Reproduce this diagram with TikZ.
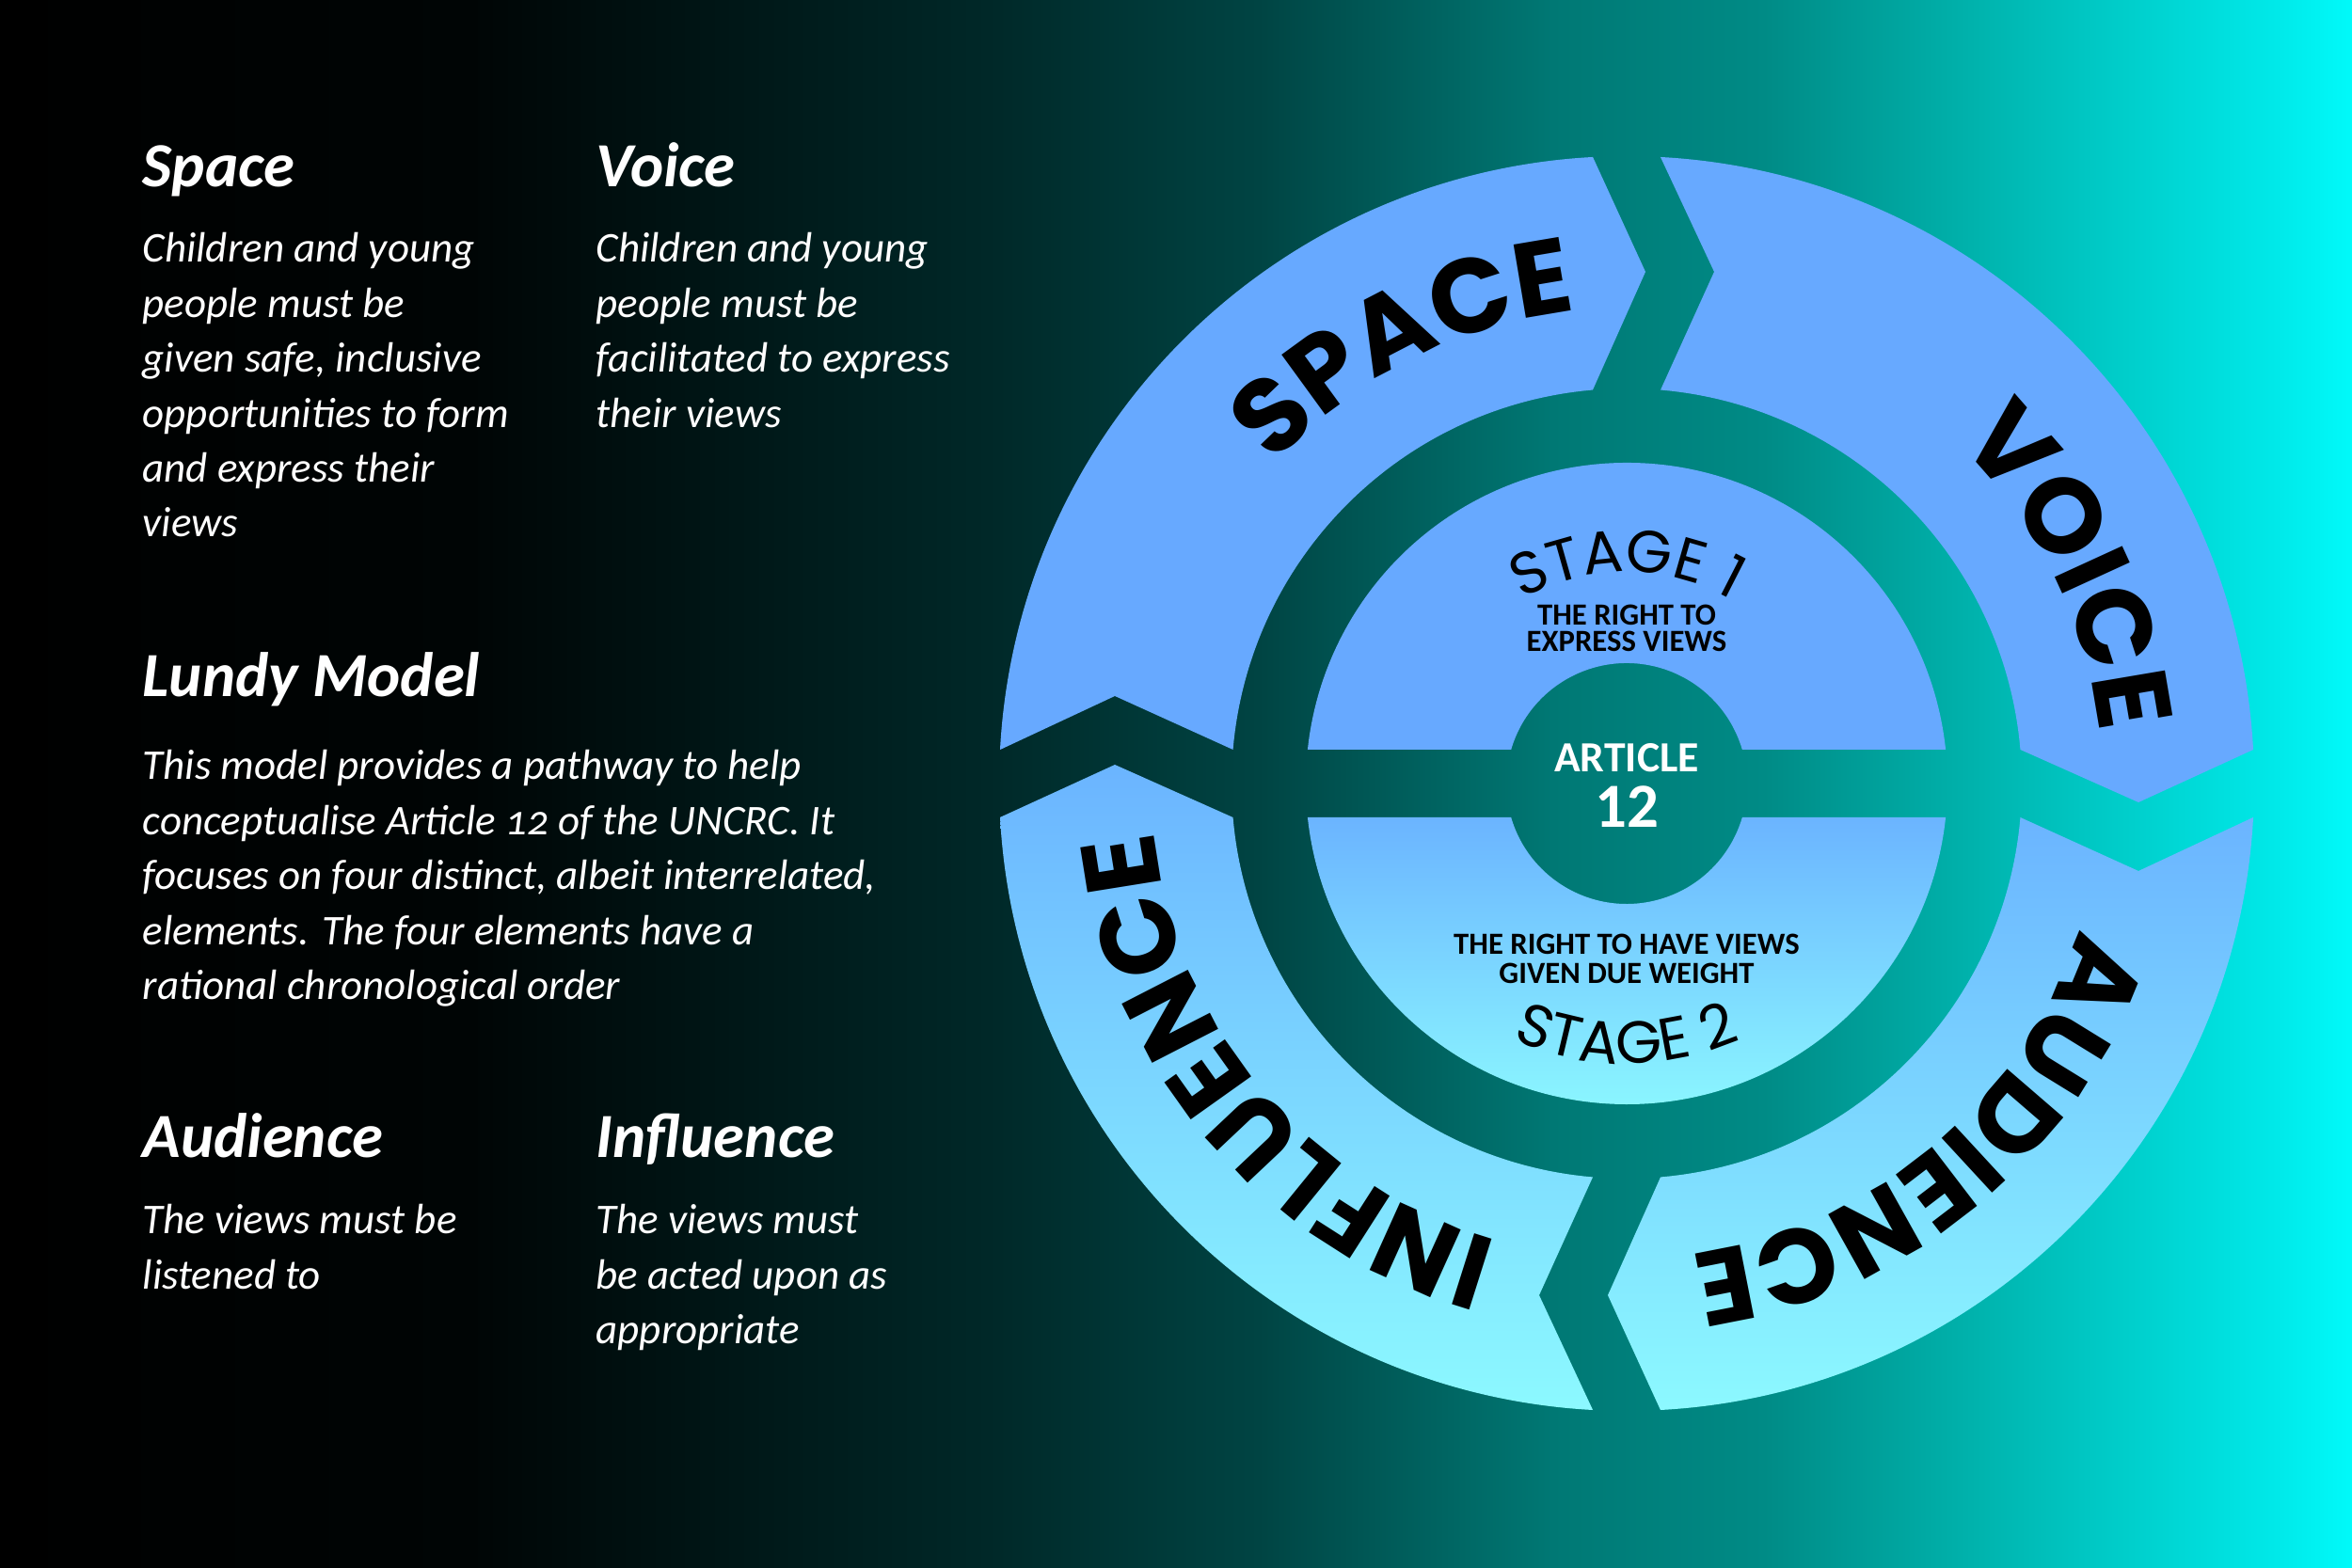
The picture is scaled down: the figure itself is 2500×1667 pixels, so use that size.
\documentclass[tikz,border=0pt]{standalone}
\usepackage{fontspec}
\setmainfont{Carlito}[Numbers=OldStyle]
\newfontfamily\ringfont{Poppins}
\usetikzlibrary{decorations.text}
\definecolor{upblue}{HTML}{67A9FF}
\definecolor{lowtop}{HTML}{6BB4FF}
\definecolor{lowbot}{HTML}{8CF9FF}
\definecolor{bgc0}{HTML}{000505}
\definecolor{bgc1}{HTML}{002828}
\definecolor{bgc2}{HTML}{004443}
\definecolor{bgc3}{HTML}{007874}
\definecolor{bgc4}{HTML}{008B86}
\definecolor{bgc5}{HTML}{00B3AD}
\definecolor{bgc6}{HTML}{00EAEA}
\definecolor{bgc7}{HTML}{00FAFA}
\pgfdeclarehorizontalshading{bgshade}{100bp}{color(0bp)=(black); color(25bp)=(black); color(35bp)=(bgc0); color(46bp)=(bgc1); color(51.75bp)=(bgc2); color(58bp)=(bgc3); color(62.5bp)=(bgc4); color(67bp)=(bgc5); color(73.5bp)=(bgc6); color(75bp)=(bgc7); color(100bp)=(bgc7)}
\tikzset{
  head/.style={anchor=base west, text=white, inner sep=0pt, font=\fontsize{19}{22}\selectfont\bfseries\itshape},
  body/.style={anchor=base west, text=white, inner sep=0pt, font=\fontsize{12.8}{16.6}\selectfont\itshape},
  caps/.style={anchor=base, text=black, inner sep=0pt, font=\fontsize{9.3}{8.2}\selectfont\bfseries},
}
\newcommand{\segpath}{(175.08:420) -- (-544,93) -- (176.91:667) arc[start angle=176.91,end angle=93.09,radius=667] -- (20,544) -- (94.92:420) arc[start angle=94.92,end angle=175.08,radius=420] -- cycle}
\newcommand{\ringtxt}[1]{|\ringfont\fontsize{32}{32}\selectfont\bfseries|#1}
\begin{document}
\begin{tikzpicture}[x=0.01cm,y=0.01cm]
\useasboundingbox (0,0) rectangle (2500,1667);
\shade[shading=bgshade] (0,0) rectangle (2500,1667);
\begin{scope}[shift={(1729,834)}]
  \fill[upblue] \segpath;
  \fill[upblue, rotate=-90] \segpath;
  \shade[top color=lowtop, bottom color=lowbot, rotate=-180] \segpath;
  \shade[top color=lowtop, bottom color=lowbot, rotate=-270] \segpath;
  \fill[upblue] (6.06:341) arc[start angle=6.06,end angle=173.94,radius=341] -- (163.67:128) arc[start angle=163.67,end angle=16.33,radius=128] -- cycle;
  \shade[top color=lowtop, bottom color=lowbot] (-6.06:341) arc[start angle=-6.06,end angle=-173.94,radius=341] -- (-163.67:128) arc[start angle=-163.67,end angle=-16.33,radius=128] -- cycle;
  \path[decorate,decoration={text along path,text align=center,text={\ringtxt{SPACE}}}] (162:505) arc[start angle=162,end angle=72,radius=505];
  \path[decorate,decoration={text along path,text align=center,text={\ringtxt{VOICE}}}] (71:505) arc[start angle=71,end angle=-19,radius=505];
  \path[decorate,decoration={text along path,text align=center,text={\ringtxt{AUDIENCE}}}] (-5:505) arc[start angle=-5,end angle=-95,radius=505];
  \path[decorate,decoration={text along path,text align=center,text={\ringtxt{INFLUENCE}}}] (265:505) arc[start angle=265,end angle=175,radius=505];
  \path[decorate,decoration={text along path,text align=center,text={|\ringfont\fontsize{18}{18}\selectfont|STAGE 1}}] (130:225) arc[start angle=130,end angle=50,radius=225];
  \path[decorate,decoration={text along path,text align=center,text={|\ringfont\fontsize{18}{18}\selectfont|STAGE 2}}] (225:298) arc[start angle=225,end angle=315,radius=298];
\end{scope}
\node[caps] (r1) at (1729,1002) {THE RIGHT TO};
\node[caps] (r2) at (1729,974) {EXPRESS VIEWS};
\node[caps] (r3) at (1729,652) {THE RIGHT TO HAVE VIEWS};
\node[caps] (r4) at (1729,621) {GIVEN DUE WEIGHT};
\node[anchor=base, text=white, inner sep=0pt, font=\fontsize{13}{13}\selectfont\bfseries] (art) at (1729,846) {ARTICLE};
\node[anchor=base, text=white, inner sep=0pt, font=\fontsize{19}{19}\selectfont\bfseries\addfontfeatures{Numbers=Lining}] (twelve) at (1729,787) {12};
\node[head] (hspace) at (151,1468) {Space};
\node[body] (bspace) at (151,1388) {\parbox[t]{6cm}{Children and young\\people must be\\given safe, inclusive\\opportunities to form\\and express their\\views}};
\node[head] (hvoice) at (633,1468) {Voice};
\node[body] (bvoice) at (633,1388) {\parbox[t]{6cm}{Children and young\\people must be\\facilitated to express\\their views}};
\node[head] (hlundy) at (151,926) {Lundy Model};
\node[body] (blundy) at (151,838) {\parbox[t]{9cm}{This model provides a pathway to help\\conceptualise Article 12 of the UNCRC. It\\focuses on four distinct, albeit interrelated,\\elements. The four elements have a\\rational chronological order}};
\node[head] (haud) at (151,436) {Audience};
\node[body] (baud) at (151,355) {\parbox[t]{6cm}{The views must be\\listened to}};
\node[head] (hinf) at (633,436) {Influence};
\node[body] (binf) at (633,355) {\parbox[t]{6cm}{The views must\\be acted upon as\\appropriate}};
\end{tikzpicture}
\end{document}
